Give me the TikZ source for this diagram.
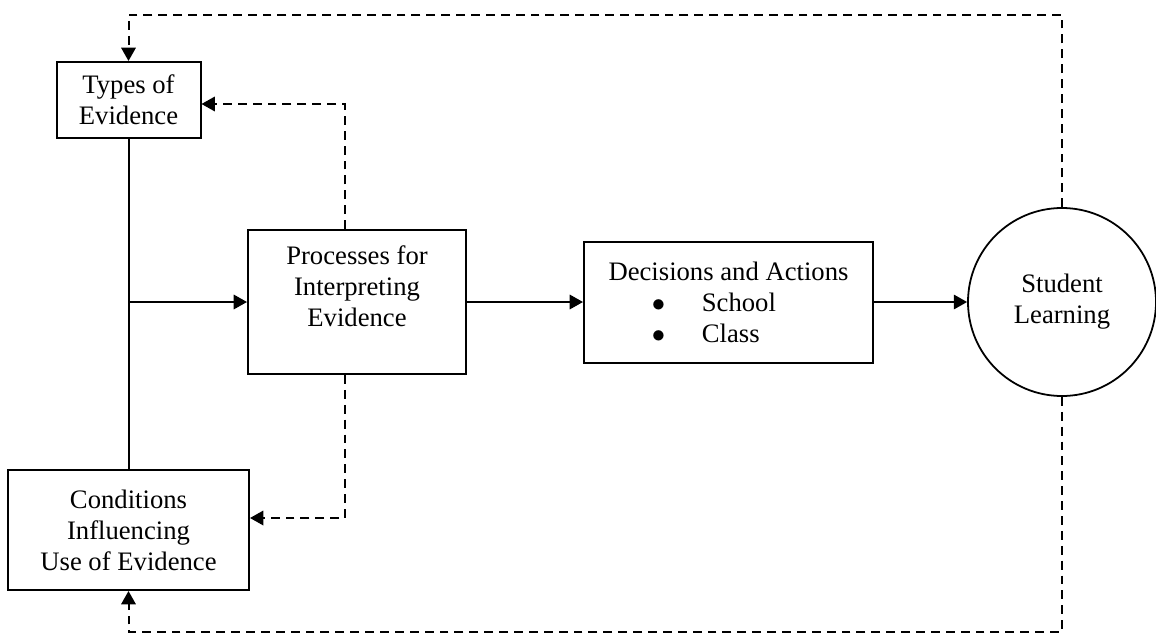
\documentclass[tikz,border=0pt]{standalone}
\usepackage{fontspec}
\setmainfont{Liberation Serif}
\usetikzlibrary{arrows.meta}
\newcommand{\pxu}{0.45pt}

\begin{document}
\begin{tikzpicture}[x=0.45pt, y=-0.45pt,
        font=\fontsize{12}{14}\selectfont,
        box/.style={draw, line width=0.9pt, inner sep=0pt, align=center},
        flow/.style={line width=0.9pt, -{Triangle[length=6pt,width=6.5pt]}},
        feedback/.style={line width=0.9pt, dash pattern=on 4pt off 2.7pt, -{Triangle[length=6pt,width=6.5pt]}}]
        \useasboundingbox (0,0) rectangle (1156,635);
        \node[box, minimum width=144*\pxu, minimum height=76*\pxu] (types) at (128.5,100) {Types of\\Evidence};
        \node[box, minimum width=241*\pxu, minimum height=120*\pxu] (conditions) at (128.5,530) {Conditions\\Influencing\\Use of Evidence};
        \node[box, minimum width=218*\pxu, minimum height=144*\pxu] (processes) at (357,302) {Processes for\\Interpreting\\Evidence\\~};
        \node[box, align=left, minimum width=289*\pxu, minimum height=121*\pxu] (decisions) at (728.5,302) {Decisions and Actions\\
                \hspace*{19.5pt}$\bullet$\hspace{16.5pt}School\\
                \hspace*{19.5pt}$\bullet$\hspace{16.5pt}Class};
        \node[draw, circle, line width=0.8pt, minimum size=188*\pxu, align=center] (learning) at (1062,302) {Student\\Learning};
        \coordinate (junction) at (128.5,302);
        \coordinate (topcorner) at (128.5,15);
        \coordinate (bottomcorner) at (128.5,632);
        \coordinate (upperbend) at (345,104);
        \coordinate (lowerbend) at (345,518);
        \draw[line width=0.9pt] (types) -- (conditions);
        \foreach \a/\b in {junction/processes, processes/decisions, decisions/learning} {
                \draw[flow] (\a) -- (\b);
            }
        \draw[feedback] (learning.north) |- (topcorner) -- (types.north);
        \draw[feedback] (learning.south) |- (bottomcorner) -- (conditions.south);
        \draw[feedback] (upperbend |- processes.north) -- (upperbend) -- (types.east |- upperbend);
        \draw[feedback] (lowerbend |- processes.south) -- (lowerbend) -- (conditions.east |- lowerbend);
    \end{tikzpicture}
\end{document}
